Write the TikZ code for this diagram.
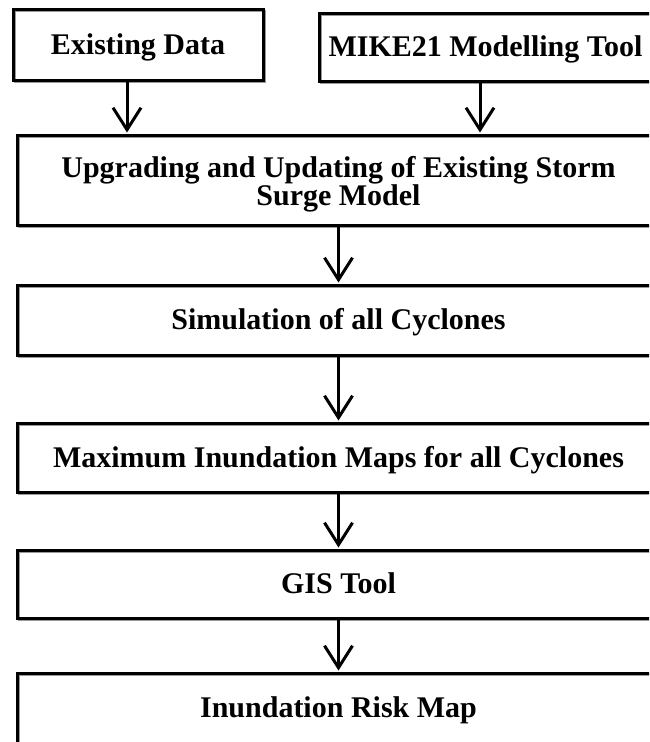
\documentclass[tikz,border=0pt]{standalone}
\usepackage{fontspec}
\setmainfont{Liberation Serif}
\usetikzlibrary{arrows.meta}
\begin{document}
\begin{tikzpicture}[x=1pt,y=-1pt,
  box/.style={draw=black, line width=3pt, rectangle, inner sep=0pt, align=center,
    font=\fontsize{30}{28}\selectfont\bfseries,
    preaction={draw=black!40, line width=2pt, transform canvas={xshift=1.5pt,yshift=-1.5pt}}},
  onel/.style={text height=27pt, text depth=7.2pt},
  arr/.style={line width=3pt, -{Straight Barb[length=22pt,width=28pt]}, shorten >=1pt}]
\useasboundingbox (0,0) rectangle (649,742);
\fill[white] (0,0) rectangle (649,742);
\clip (0,0) rectangle (649,742);
\node[box,onel,minimum width=250pt,minimum height=71pt] (ed) at (138,44.5) {Existing Data};
\node[box,onel,minimum width=333pt,minimum height=68pt] (mike) at (485.5,47) {MIKE21 Modelling Tool};
\node[box,minimum width=643pt,minimum height=90pt] (up) at (338.5,180) {\rule{0pt}{29pt}Upgrading and Updating of Existing Storm\\Surge Model};
\node[box,onel,minimum width=643pt,minimum height=70pt] (sim) at (338.5,320) {Simulation of all Cyclones};
\node[box,onel,minimum width=643pt,minimum height=69pt] (max) at (338.5,457.5) {Maximum Inundation Maps for all Cyclones};
\node[box,onel,minimum width=643pt,minimum height=68pt] (gis) at (338.5,584) {GIS Tool};
\node[box,onel,minimum width=643pt,minimum height=70pt] (risk) at (338.5,708) {Inundation Risk Map};
\draw[arr] ([xshift=-11pt]ed.south) -- ([xshift=-11pt]ed.south |- up.north);
\draw[arr] ([xshift=-5.5pt]mike.south) -- ([xshift=-5.5pt]mike.south |- up.north);
\draw[arr] (up.south) -- (sim.north);
\draw[arr] (sim.south) -- (max.north);
\draw[arr] (max.south) -- (gis.north);
\draw[arr] (gis.south) -- (risk.north);
\end{tikzpicture}
\end{document}
